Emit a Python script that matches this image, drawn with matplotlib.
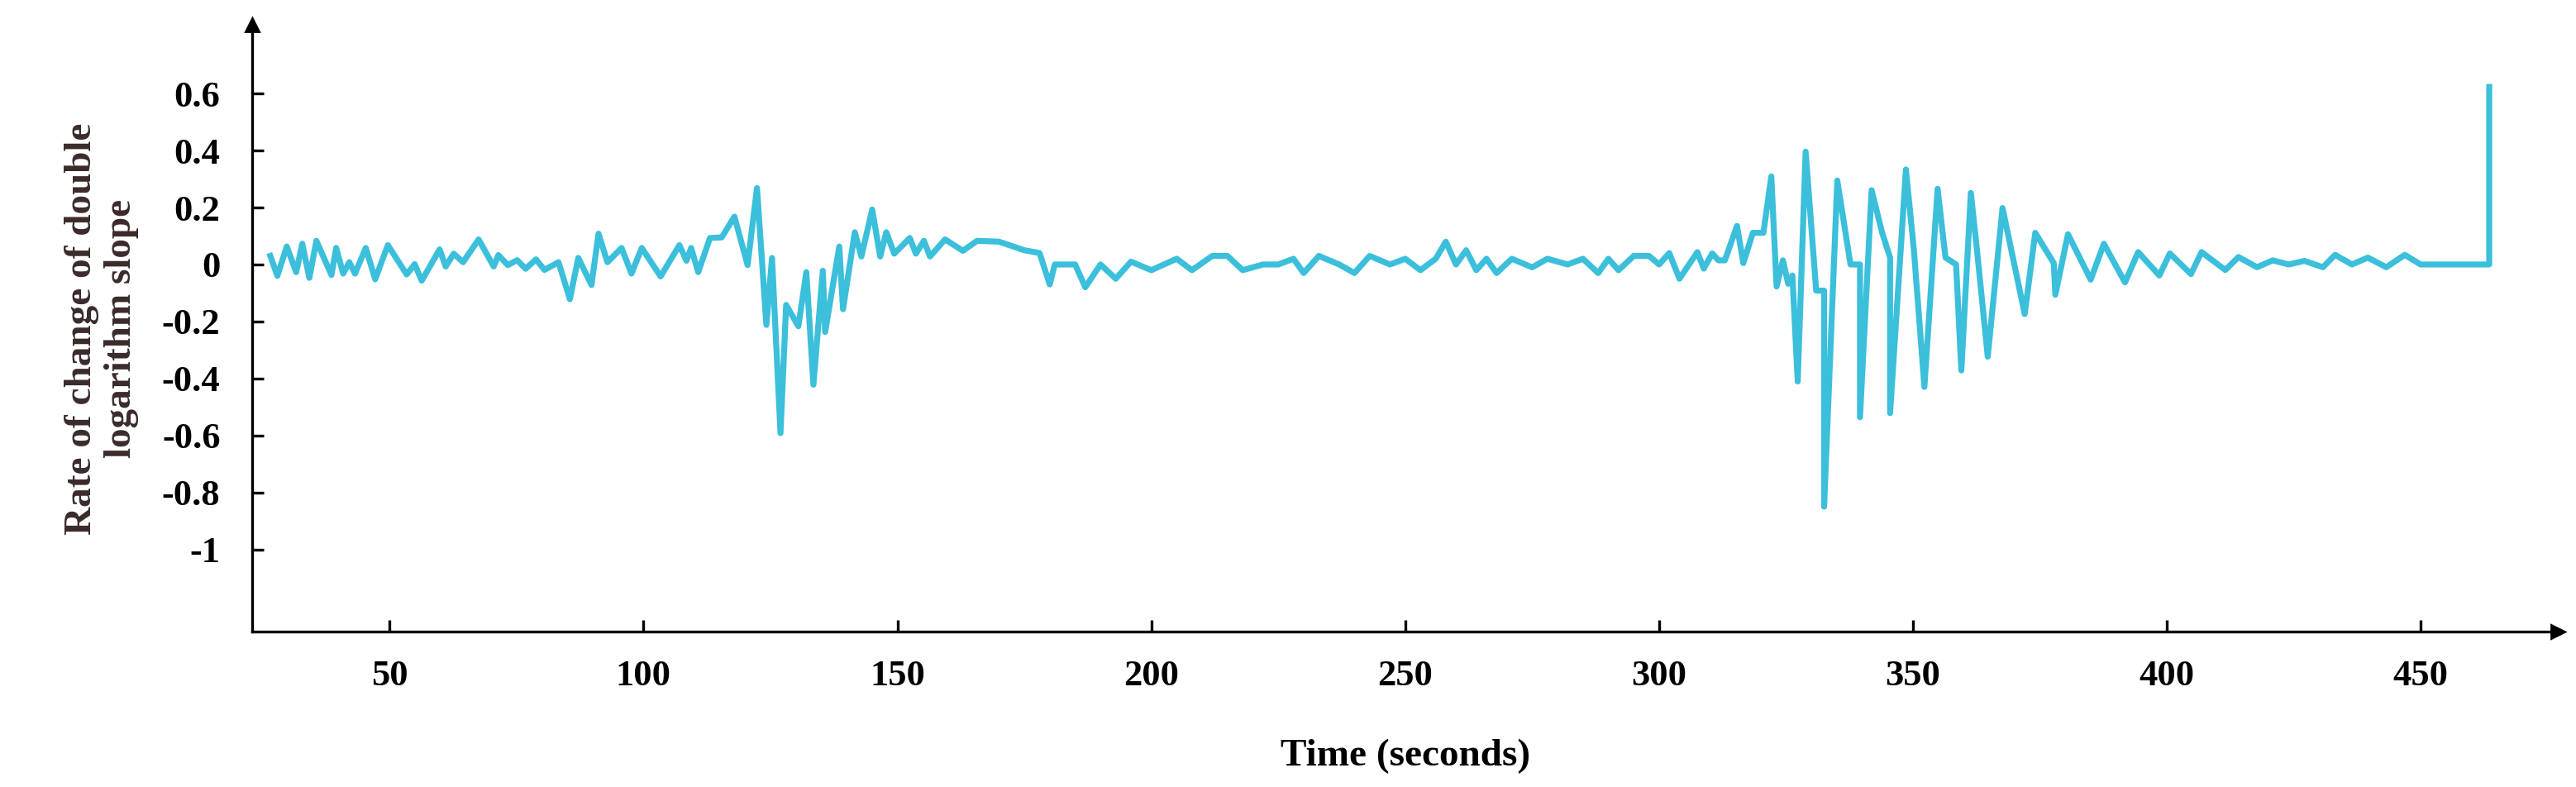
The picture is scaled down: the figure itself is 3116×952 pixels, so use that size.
import matplotlib
matplotlib.use("Agg")
import matplotlib.pyplot as plt
import numpy as np

# segment 1 (zoom coords converted): t = 20.5 + z/10.8, v = (413 - y)/1000
z1 = [65,80,100,120,133,148,163,195,205,220,233,245,268,288,315,355,372,387,425,438,455,475,508,540,550,570,590,608,630,648,678,702,720,748,763,782,812,833,855,895,935,950,960,975,1000,1025,1052,1080,1100,1120,1132,1150,1162,1188,1205,1220,1240,1245,1275,1283,1308,1322,1345,1362,1375,1392,1425,1438,1455,1468,1500,1538,1568]
y1 = [383,453,350,440,340,460,330,450,355,445,405,445,355,465,345,448,412,470,360,420,375,405,325,420,380,415,398,428,395,432,405,535,390,485,305,405,355,445,355,455,345,400,355,440,320,318,245,415,145,625,390,1005,555,630,440,835,435,650,350,570,300,385,220,385,300,375,320,375,330,385,325,365,330]
t1 = [20.5 + z / 10.8 for z in z1]
v1 = [(413 - y) / 1000 for y in y1]

t2 = [170,175,178,180,181,185,187,190,193,196,200,205,208,212,215,218,222,225,228,230,233,237,240,243,247,250,253,256,258,260,262,264,266,268,271,275,278,282,285,288,290,292,295,298,300,302,304]
v2 = [0.08,0.05,0.04,-0.07,0.0,0.0,-0.08,0.0,-0.05,0.01,-0.02,0.02,-0.02,0.03,0.03,-0.02,0.0,0.0,0.02,-0.03,0.03,0.0,-0.03,0.03,0.0,0.02,-0.02,0.02,0.08,0.0,0.05,-0.02,0.02,-0.03,0.02,-0.01,0.02,0.0,0.02,-0.03,0.02,-0.02,0.03,0.03,0.0,0.04,-0.05]

# segment 3: t = 306.5 + z/9.62, v = (505 - y)/1035
z3 = [10,22,38,50,62,85,97,115,135,150,160,172,182,190,200,215,235,250,250,275,300,318,318,340,360,375,375,405,420,440,465,480,500,510,528,540,560,588,630,650,685,688,712,755,780,820,845,885,905,945,965,1010,1035,1070,1100,1130,1160,1195,1218,1250,1280,1315,1350,1380,1510,1510]
y3 = [460,520,465,490,490,365,500,390,390,185,585,490,575,545,930,95,600,600,1385,200,505,505,1060,235,390,480,1045,160,450,950,230,480,505,890,245,460,840,300,685,390,500,615,395,560,430,570,460,545,465,540,460,525,478,515,490,505,492,515,470,505,480,515,470,505,505,-140]
t3 = [306.5 + z / 9.62 for z in z3]
v3 = [(505 - y) / 1035 for y in y3]

t = t1 + t2 + t3
v = v1 + v2 + v3

plt.rcParams['font.family'] = ['Liberation Serif', 'DejaVu Serif']
plt.rcParams['font.weight'] = 'bold'
fig = plt.figure(figsize=(15.58, 4.76), dpi=200)
ax = fig.add_axes([0.098, 0.197, 0.895, 0.771])
ax.plot(t, v, color='#3BBFDB', lw=2.6)
ax.set_xlim(23, 477)
ax.set_ylim(-1.29, 0.84)
for s in ['top', 'right']:
    ax.spines[s].set_visible(False)
for s in ['left', 'bottom']:
    ax.spines[s].set_linewidth(1.2)
ax.plot(1, 0, '>k', transform=ax.transAxes, clip_on=False, ms=6)
ax.plot(0, 1, '^k', transform=ax.transAxes, clip_on=False, ms=6)
ax.set_xticks([50,100,150,200,250,300,350,400,450])
yt = [-1,-0.8,-0.6,-0.4,-0.2,0,0.2,0.4,0.6]
ax.set_yticks(yt)
ax.set_yticklabels(['-1','-0.8','-0.6','-0.4','-0.2','0','0.2','0.4','0.6'])
ax.tick_params(axis='y', direction='in', length=5, width=1.2, labelsize=16, pad=14)
ax.tick_params(axis='x', direction='in', length=5, width=1.2, labelsize=16, pad=12)
for lab in ax.get_xticklabels() + ax.get_yticklabels():
    lab.set_fontweight('bold')
ax.set_xlabel('Time (seconds)', fontsize=17, fontweight='bold', labelpad=20)
ax.set_ylabel('Rate of change of double\nlogarithm slope', fontsize=17, fontweight='bold', labelpad=10, color='#3a2a2a')
fig.savefig('out.png', dpi=200)
